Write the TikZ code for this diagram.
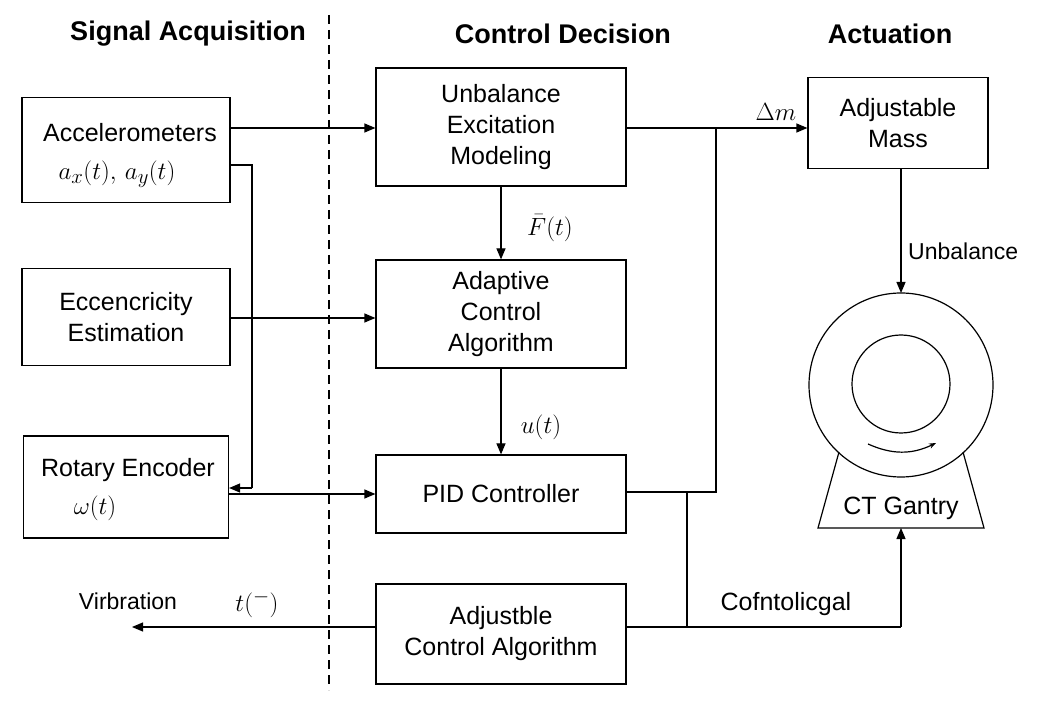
\documentclass[tikz,border=0pt]{standalone}
\usepackage{fontspec}
\setmainfont{Liberation Sans}
\usetikzlibrary{arrows.meta}
\begin{document}
\begin{tikzpicture}[x=1pt,y=-1pt,
  box/.style={draw,line width=1.2pt,align=center,font=\fontsize{25}{31}\selectfont,inner sep=0pt},
  txt/.style={font=\fontsize{25}{31}\selectfont,inner sep=0pt},
  lbl/.style={font=\fontsize{23}{27}\selectfont,inner sep=0pt},
  mth/.style={font=\fontsize{32}{36}\selectfont,inner sep=0pt},
  hdr/.style={font=\fontsize{27}{32}\selectfont\bfseries,inner sep=0pt},
  ln/.style={line width=1.2pt},
  arr/.style={line width=1.2pt,-{Triangle[length=11pt,width=9pt]}}]
\useasboundingbox (0,0) rectangle (1042,708);
\fill[white] (0,0) rectangle (1042,708);
\node[hdr] (h1) at (188,34) {Signal Acquisition};
\node[hdr] (h2) at (563,34) {Control Decision};
\node[hdr] (h3) at (890,34) {Actuation};
\coordinate (dt) at (329,15); \coordinate (db) at (329,690);
\draw[line width=1.2pt,dash pattern=on 9pt off 6pt] (dt) -- (db);
% left boxes
\node[box,minimum width=208pt,minimum height=105pt] (acc) at (126,150) {};
\node[txt] (acct) at (130,133) {Accelerometers};
\node[mth] (accm) at (117,174) {$a_x(t),\,a_y(t)$};
\node[box,minimum width=208pt,minimum height=97pt] (ecc) at (126,317) {Eccencricity\\Estimation};
\node[box,minimum width=205pt,minimum height=102pt] (rot) at (126,487) {};
\node[txt] (rott) at (128,470) {Rotary Encoder};
\node[mth] (rotm) at (95,508) {$\omega(t)$};
% center boxes
\node[box,minimum width=250pt,minimum height=118pt] (unb) at (501,127) {Unbalance\\Excitation\\Modeling};
\node[box,minimum width=250pt,minimum height=108pt] (ada) at (501,314) {Adaptive\\Control\\Algorithm};
\node[box,minimum width=250pt,minimum height=78pt] (pid) at (501,494) {PID Controller};
\node[box,minimum width=250pt,minimum height=100pt] (adj) at (501,634) {Adjustble\\Control Algorithm};
% right
\node[box,minimum width=180pt,minimum height=91pt] (mass) at (898,123) {Adjustable\\Mass};
\draw[ln] (901,385) circle (92);
\draw[ln] (901,384) circle (49);
\coordinate (g1) at (839,452); \coordinate (g2) at (963,452);
\coordinate (g3) at (984,528); \coordinate (g4) at (818,528);
\draw[ln] (g1) -- (g4) -- (g3) -- (g2);
\node[txt] (ct) at (901,508) {CT Gantry};
\coordinate (gtop) at (901,293); \coordinate (gbot) at (901,528);
\coordinate (ra) at (868,444); \coordinate (rb) at (936,443);
\draw[line width=1.2pt,-{Stealth[length=7pt]}] (ra) to[bend right=25] (rb);
% connectors
\coordinate (accR) at (230,128);
\draw[arr] (accR) -- (unb.west |- accR);
\coordinate (accR2) at (230,165); \coordinate (v1) at (252,165); \coordinate (v2) at (252,488);
\draw[ln] (accR2) -- (v1) -- (v2);
\draw[arr] (v2) -- (rot.east |- v2);
\coordinate (eccR) at (230,318);
\draw[arr] (eccR) -- (ada.west |- eccR);
\coordinate (rotR) at (228,494);
\draw[arr] (rotR) -- (pid.west |- rotR);
\draw[arr] (unb.south) -- (ada.north);
\node[mth] (F) at (550,228) {$\bar F(t)$};
\draw[arr] (ada.south) -- (pid.north);
\node[mth] (u) at (541,427) {$u(t)$};
\coordinate (j1) at (716,128); \coordinate (j2) at (716,492);
\draw[arr] (unb.east |- j1) -- (mass.west |- j1);
\draw[ln] (j1) -- (j2) -- (pid.east |- j2);
\node[mth] (dm) at (776,112) {$\Delta m$};
\draw[arr] (mass.south -| gtop) -- (gtop);
\node[lbl,anchor=west] (ub) at (908,251) {Unbalance};
\coordinate (k1) at (687,492); \coordinate (k2) at (687,627); \coordinate (k3) at (901,627);
\draw[ln] (k1) -- (k2);
\draw[ln] (adj.east |- k2) -- (k3);
\draw[arr] (k3) -- (gbot);
\node[txt] (cof) at (786,604) {Cofntolicgal};
\coordinate (vib) at (132,627);
\draw[arr] (adj.west |- vib) -- (vib);
\node[lbl] (vt) at (128,601) {Virbration};
\node[mth] (tm) at (257,604) {$t(^{-})$};
\end{tikzpicture}
\end{document}
